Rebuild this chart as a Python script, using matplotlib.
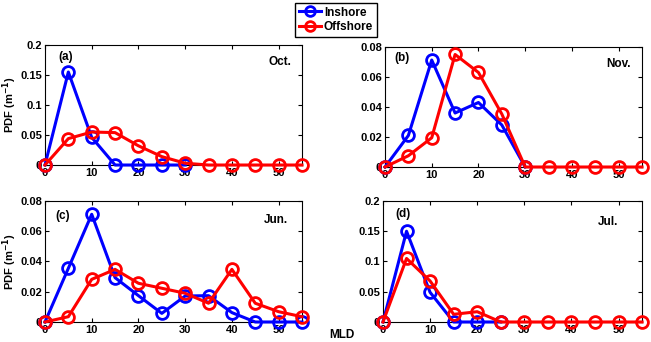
import matplotlib.pyplot as plt
from matplotlib.ticker import FuncFormatter

plt.rcParams['font.family'] = ['Liberation Sans', 'DejaVu Sans']
plt.rcParams['font.weight'] = 'bold'

mld = [0, 5, 10, 15, 20, 25, 30, 35, 40, 45, 50, 55]

# inshore series are shorter (they stop where the line ends in the figure)
oct_in = [0, 0.155, 0.046, 0, 0, 0, 0]
oct_off = [0, 0.044, 0.055, 0.054, 0.032, 0.014, 0.003, 0, 0, 0, 0, 0]
nov_in = [0, 0.021, 0.0713, 0.036, 0.043, 0.028, 0]
nov_off = [0, 0.0075, 0.0195, 0.075, 0.063, 0.0353, 0, 0, 0, 0, 0, 0]
jun_in = [0, 0.0355, 0.0712, 0.0293, 0.0174, 0.0057, 0.0172, 0.0174, 0.0062, 0, 0, 0]
jun_off = [0, 0.0035, 0.0282, 0.0348, 0.0256, 0.0223, 0.019, 0.0124, 0.0348, 0.0124, 0.0068, 0.0035]
jul_in = [0, 0.150, 0.049, 0, 0, 0]
jul_off = [0, 0.105, 0.0678, 0.0127, 0.017, 0, 0, 0, 0, 0, 0, 0]

panels = [
    ("(a)", "Oct.", oct_in, oct_off, [0, 0.05, 0.1, 0.15, 0.2], 0.2),
    ("(b)", "Nov.", nov_in, nov_off, [0, 0.02, 0.04, 0.06, 0.08], 0.08),
    ("(c)", "Jun.", jun_in, jun_off, [0, 0.02, 0.04, 0.06, 0.08], 0.08),
    ("(d)", "Jul.", jul_in, jul_off, [0, 0.05, 0.1, 0.15, 0.2], 0.2),
]

# [left, bottom, width, height] in figure fraction
positions = [
    [0.0691, 0.5175, 0.3948, 0.3509],
    [0.5914, 0.5117, 0.3948, 0.3509],
    [0.0691, 0.0585, 0.3948, 0.3538],
    [0.5883, 0.0585, 0.3980, 0.3538],
]
lab_pos = [(0.08, 0.90), (0.065, 0.91), (0.07, 0.88), (0.077, 0.89)]
mon_pos = [(0.915, 0.86), (0.91, 0.86), (0.90, 0.84), (0.87, 0.83)]


def fmt(v, pos):
    if v == 0:
        return "0"
    return "%g" % v


fig = plt.figure(figsize=(6.51, 3.42), dpi=100)
style = dict(marker='o', markersize=8.5, markerfacecolor='none', markeredgewidth=2, linewidth=2.2)

for i, (lab, mon, yin, yoff, yt, ymax) in enumerate(panels):
    ax = fig.add_axes(positions[i])
    l1, = ax.plot(mld[:len(yin)], yin, color='#0000ff', label='Inshore', zorder=3, clip_on=False, **style)
    l2, = ax.plot(mld[:len(yoff)], yoff, color='#ff0000', label='Offshore', zorder=4, clip_on=False, **style)
    ax.set_xlim(0, 55)
    ax.set_ylim(0, ymax)
    ax.set_xticks([0, 10, 20, 30, 40, 50])
    ax.set_yticks(yt)
    ax.yaxis.set_major_formatter(FuncFormatter(fmt))
    ax.tick_params(direction='in', top=True, right=True, labelsize=8, length=3, pad=2)
    for t in ax.get_xticklabels() + ax.get_yticklabels():
        t.set_fontweight('bold')
    ax.text(lab_pos[i][0], lab_pos[i][1], lab, transform=ax.transAxes, ha='center', va='center',
            fontsize=8.5, fontweight='bold')
    ax.text(mon_pos[i][0], mon_pos[i][1], mon, transform=ax.transAxes, ha='center', va='center',
            fontsize=8.5, fontweight='bold')
    if i in (0, 2):
        ax.set_ylabel('PDF (m$^{\\mathbf{-1}}$)', fontsize=8, fontweight='bold')
        ax.yaxis.set_label_coords(-0.10, 0.5)

leg = fig.legend([l1, l2], ['Inshore', 'Offshore'], loc='upper left', bbox_to_anchor=(295 / 651, 1 - 3 / 342),
                 prop={'size': 8.5, 'weight': 'bold'}, fancybox=False, edgecolor='black', framealpha=1,
                 handlelength=1.9, handletextpad=0.25, borderpad=0.3, labelspacing=0.25, borderaxespad=0)
leg.get_frame().set_linewidth(1.0)
for h in leg.legend_handles:
    h.set_markersize(7)

fig.text(342 / 651, 1 - 335 / 342, 'MLD', ha='center', va='center', fontsize=8.5, fontweight='bold')

fig.savefig('out.png', dpi=100)
